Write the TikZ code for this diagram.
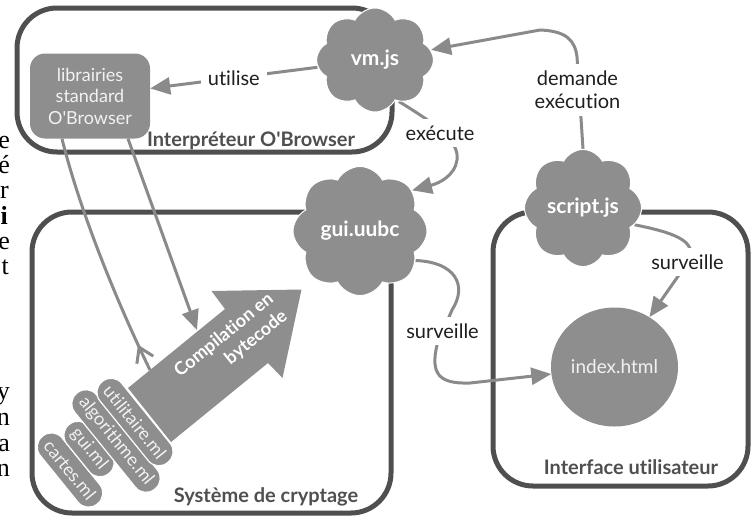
\documentclass[tikz,border=0pt]{standalone}
\usepackage{fontspec}
\setmainfont{Lato}[Ligatures={TeXOff,NoCommon}]
\newfontfamily\pagefont{Liberation Serif}
\usetikzlibrary{shapes.symbols,shapes.geometric,arrows.meta,decorations.markings}

\definecolor{shapegray}{HTML}{8E8E8E}
\definecolor{linegray}{HTML}{8A8A8A}
\definecolor{framegray}{HTML}{4F4F4F}
\definecolor{labelink}{HTML}{1E1E1E}
\definecolor{paleink}{HTML}{F2F2F2}

\pgfdeclarelayer{frames}
\pgfdeclarelayer{links}
\pgfsetlayers{frames,links,main}

\begin{document}
\begin{tikzpicture}[x=1pt,y=1pt,
  frame/.style={draw=framegray,line width=5pt,rounded corners=40pt},
  framelabel/.style={font=\fontsize{20}{24}\selectfont\bfseries,text=framegray,anchor=base,inner sep=0pt},
  conn/.style={draw=linegray,line width=3pt,-{Triangle[length=20pt,width=17pt]}},
  plain/.style={draw=linegray,line width=3pt},
  lbl/.style={fill=white,text=labelink,font=\fontsize{20}{23}\selectfont,inner sep=7pt,align=center},
  puff/.style={cloud,cloud puffs=8,cloud puff arc=125,fill=shapegray,draw=white,line width=1pt,
    text=white,font=\fontsize{21}{25}\selectfont\bfseries,inner sep=0pt},
  tag/.style={fill=shapegray,draw=white,line width=1.2pt,rounded corners=13.5pt,minimum height=28pt,
    inner xsep=8pt,inner ysep=0pt,text=paleink,font=\fontsize{18}{21}\selectfont,rotate=-51},
  pagechar/.style={font=\pagefont\fontsize{26}{30}\selectfont,anchor=base east,inner sep=0pt,text=black},
]
\useasboundingbox (0,0) rectangle (751,-517);

% fragments of the surrounding page text
\node[pagechar] (p1) at (10,-148) {e};
\node[pagechar] (p2) at (10,-173) {é};
\node[pagechar] (p3) at (9,-198) {r};
\node[pagechar] (p4) at (8,-224) {\bfseries i};
\node[pagechar] (p5) at (10,-249) {e};
\node[pagechar] (p6) at (9,-274) {t};
\node[pagechar] (p7) at (10,-399) {y};
\node[pagechar] (p8) at (10,-425) {n};
\node[pagechar] (p9) at (10,-451) {a};
\node[pagechar] (p10) at (10,-476) {n};

% frames
\begin{pgfonlayer}{frames}
\draw[frame] (17,-8) rectangle (392,-152);
\draw[frame] (32,-212) rectangle (391,-513);
\draw[frame] (493,-212) rectangle (748,-486);
\end{pgfonlayer}
\node[framelabel] (interp) at (251,-146) {Interpréteur O'Browser};
\node[framelabel] (crypt) at (266,-502) {Système de cryptage};
\node[framelabel] (ui) at (631,-474) {Interface utilisateur};

% nodes
\node[fill=shapegray,rounded corners=15pt,minimum width=120pt,minimum height=85pt,
  text=paleink,font=\fontsize{18}{21.5}\selectfont,align=center,inner sep=0pt]
  (lib) at (90,-96) {librairies\\standard\\O'Browser};
\node[puff,minimum width=117pt,minimum height=104pt] (vm) at (375,-60) {vm.js};
\node[puff,minimum width=134pt,minimum height=118pt] (gui) at (360,-231) {gui.uubc};
\node[puff,minimum width=117pt,minimum height=104pt] (script) at (583,-208) {script.js};
\node[ellipse,fill=shapegray,minimum width=127pt,minimum height=119pt,inner sep=0pt,
  text=paleink,font=\fontsize{19}{23}\selectfont] (index) at (614.5,-367) {index.html};

% compilation arrow with the source files
\fill[shapegray] (301.5,-289.5) -- (211.5,-291) -- (225,-309) -- (128,-388) -- (171,-442)
  -- (268,-363) -- (282.5,-378) -- cycle;
\node[rotate=39,align=right,text=white,font=\fontsize{18}{22}\selectfont\bfseries,inner sep=0pt]
  (comp) at (231,-344) {Compilation en\\bytecode};
\node[tag] (cartes) at (70,-470) {cartes.ml};
\node[tag] (guiml) at (89,-449) {gui.ml};
\node[tag] (algo) at (116,-441) {algorithme.ml};
\node[tag] (util) at (135,-422) {utilitaire.ml};

\coordinate (shaftA) at (150,-370);
\coordinate (shaftB) at (197,-330);

% connectors
\begin{pgfonlayer}{links}
\draw[conn] (vm) -- node[lbl] (uses) {utilise} (lib);
\draw[conn] (script.north) -- (577,-57) .. controls (575,-40) and (566,-31) .. (540,-30) -- (vm);
\node[lbl] (asks) at (577.5,-90) {demande\\exécution};
\draw[conn] (vm.-60) .. controls (432,-122) and (460,-140) .. (457,-160)
  .. controls (455,-175) and (440,-183) .. (gui.38);
\node[lbl] (runs) at (440,-133) {exécute};
\draw[conn] (gui.-28) .. controls (455,-262) and (468,-285) .. (452,-310) -- (437,-345)
  .. controls (430,-375) and (440,-384) .. (470,-383) -- (index);
\node[lbl] (watch1) at (442.5,-331) {surveille};
\draw[conn] (script.-18) .. controls (670,-232) and (700,-240) .. (688,-262) -- (index.55);
\node[lbl] (watch2) at (687.5,-262) {surveille};
\draw[plain,postaction={decorate,decoration={markings,
    mark=at position 28pt with {\arrow{Straight Barb[length=14pt,width=18pt]}}}}]
  (shaftA) .. controls (115,-298) and (79,-208) .. ([xshift=-28pt]lib.south);
\draw[conn] ([xshift=38pt]lib.south) -- (shaftB);
\end{pgfonlayer}
\end{tikzpicture}
\end{document}
